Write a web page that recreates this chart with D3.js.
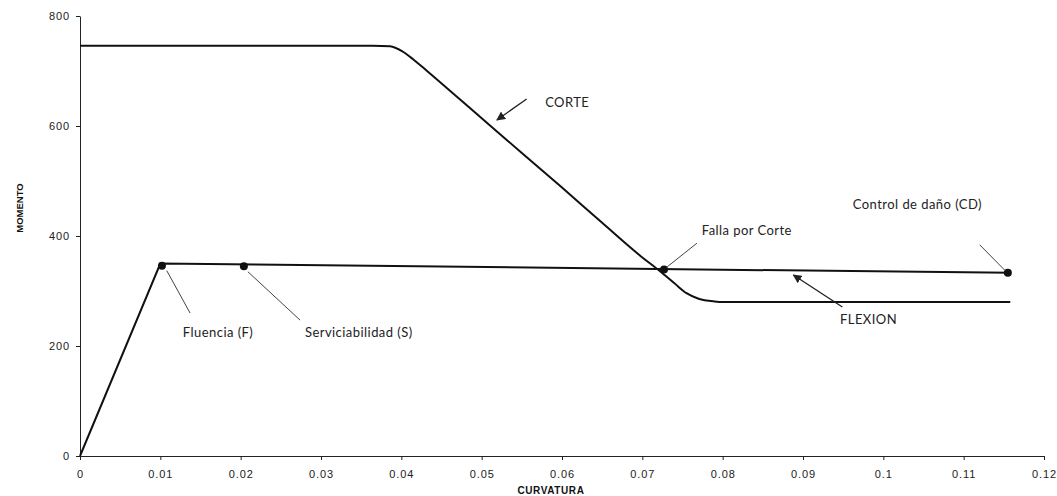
<!DOCTYPE html>
<html>
<head>
<meta charset="utf-8">
<script src="https://cdn.jsdelivr.net/npm/d3@7"></script>
<style>
  body { margin: 0; background: #fff; }
  svg { display: block; }
</style>
</head>
<body>
<div id="chart"></div>
<script>
// chart data
var corteX = [0, 0.0364, 0.0386, 0.0402, 0.0415, 0.0432, 0.05, 0.055, 0.06, 0.065, 0.07, 0.0722, 0.074, 0.0755, 0.077, 0.079, 0.08, 0.1158];
var corteY = [746, 746, 745, 735, 721, 700, 614, 551, 488, 424, 361, 336, 314, 296, 286, 281, 280, 280];
var flexionX = [0, 0.01, 0.1158];
var flexionY = [0, 350, 333];
var pointX = [0.0102, 0.0204, 0.0727, 0.1155];
var pointY = [346, 345, 339, 333];
var xTicks = [0, 0.01, 0.02, 0.03, 0.04, 0.05, 0.06, 0.07, 0.08, 0.09, 0.1, 0.11, 0.12];
var yTicks = [0, 200, 400, 600, 800];

var svgWidth = 1057;
var svgHeight = 496;
var margin = { top: 16, right: 13, bottom: 40, left: 80 };
var chartWidth = svgWidth - margin.left - margin.right;
var chartHeight = svgHeight - margin.top - margin.bottom;

var svg = d3.select("#chart").append("svg")
  .attr("width", svgWidth)
  .attr("height", svgHeight);

var g = svg.append("g")
  .attr("transform", `translate(${margin.left}, ${margin.top})`);

var x = d3.scaleLinear().domain([0, 0.12]).range([0, chartWidth]);
var y = d3.scaleLinear().domain([0, 800]).range([chartHeight, 0]);

// axes
var xAxis = g.append("g")
  .attr("transform", "translate(0," + chartHeight + ")")
  .call(d3.axisBottom(x).tickValues(xTicks).tickSize(4).tickSizeOuter(0).tickFormat(d => String(+d.toFixed(2))));
var yAxis = g.append("g")
  .call(d3.axisLeft(y).tickValues(yTicks).tickSize(4).tickSizeOuter(0));

[xAxis, yAxis].forEach(function(a) {
  a.select(".domain").attr("stroke", "#222");
  a.selectAll(".tick line").attr("stroke", "#222");
  a.selectAll(".tick text")
    .attr("font-family", "Liberation Sans, Arial, sans-serif")
    .attr("font-size", 11)
    .attr("letter-spacing", 0.9)
    .attr("fill", "#222");
});
xAxis.selectAll(".tick text").attr("dy", "1.1em").attr("y", 10);
yAxis.selectAll(".tick text").attr("x", -10);

// axis titles
svg.append("text")
  .attr("transform", "translate(20,208) rotate(-90)")
  .attr("text-anchor", "middle")
  .attr("dy", "0.35em")
  .attr("font-family", "Liberation Sans, Arial, sans-serif")
  .attr("font-weight", "bold")
  .attr("font-size", 9.5)
  .attr("fill", "#111")
  .text("MOMENTO");

svg.append("text")
  .attr("x", 551)
  .attr("y", 494)
  .attr("text-anchor", "middle")
  .attr("font-family", "Liberation Sans, Arial, sans-serif")
  .attr("font-weight", "bold")
  .attr("font-size", 10)
  .attr("letter-spacing", 0.6)
  .attr("fill", "#111")
  .text("CURVATURA");

// curves
var line = d3.line()
  .x(d => x(d[0]))
  .y(d => y(d[1]));

g.append("path")
  .datum(corteX.map((v, i) => [v, corteY[i]]))
  .attr("fill", "none")
  .attr("stroke", "#111")
  .attr("stroke-width", 2)
  .attr("d", line.curve(d3.curveMonotoneX));

g.append("path")
  .datum(flexionX.map((v, i) => [v, flexionY[i]]))
  .attr("fill", "none")
  .attr("stroke", "#111")
  .attr("stroke-width", 2)
  .attr("d", line.curve(d3.curveLinear));

g.selectAll("circle")
  .data(pointX.map((v, i) => [v, pointY[i]]))
  .enter().append("circle")
  .attr("cx", d => x(d[0]))
  .attr("cy", d => y(d[1]))
  .attr("r", 4)
  .attr("fill", "#111");

// annotations
var defs = svg.append("defs");
defs.append("marker")
  .attr("id", "arrow")
  .attr("viewBox", "0 0 10 10")
  .attr("refX", 9).attr("refY", 5)
  .attr("markerWidth", 9).attr("markerHeight", 9)
  .attr("markerUnits", "userSpaceOnUse")
  .attr("orient", "auto")
  .append("path")
  .attr("d", "M0,0L10,5L0,10z")
  .attr("fill", "#222");

var notes = [
  { text: "Fluencia (F)", from: [0.0137, 260], to: [0.0108, 337], at: [0.0128, 225], arrow: false },
  { text: "Serviciabilidad (S)", from: [0.0274, 247], to: [0.0209, 335], at: [0.0280, 225], arrow: false },
  { text: "Falla por Corte", from: [0.0768, 387], to: [0.0731, 344], at: [0.0774, 411], arrow: false },
  { text: "Control de daño (CD)", from: [0.1120, 384], to: [0.1151, 338], at: [0.0962, 458], arrow: false },
  { text: "FLEXION", from: [0.0949, 271], to: [0.0888, 329], at: [0.0946, 249], arrow: true },
  { text: "CORTE", from: [0.0556, 649], to: [0.0519, 611], at: [0.0579, 642], arrow: true }
];

notes.forEach(function(n) {
  g.append("line")
    .attr("x1", x(n.from[0])).attr("y1", y(n.from[1]))
    .attr("x2", x(n.to[0])).attr("y2", y(n.to[1]))
    .attr("stroke", n.arrow ? "#222" : "#444")
    .attr("stroke-width", n.arrow ? 1.3 : 1)
    .attr("marker-end", n.arrow ? "url(#arrow)" : null);
  g.append("text")
    .attr("x", x(n.at[0]))
    .attr("y", y(n.at[1]))
    .attr("dy", "0.35em")
    .attr("font-family", "Lato, Open Sans, sans-serif")
    .attr("font-size", 13)
    .attr("letter-spacing", 0.45)
    .attr("fill", "#222")
    .text(n.text);
});
</script>
</body>
</html>
